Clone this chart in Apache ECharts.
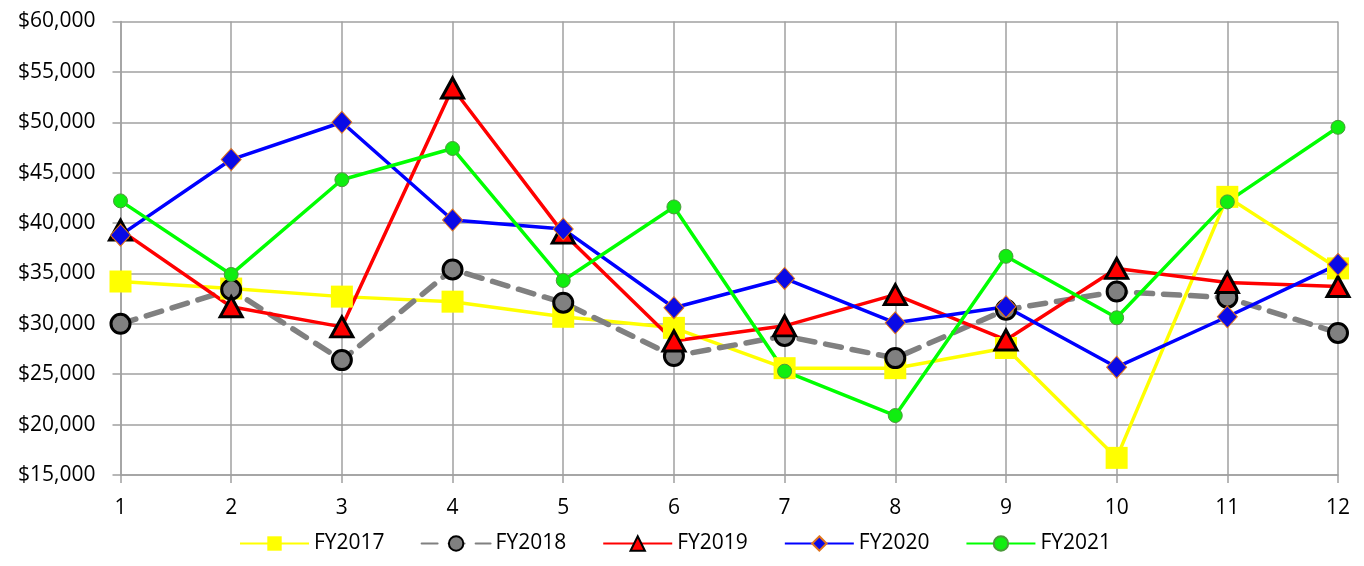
<!DOCTYPE html>
<html>
<head>
<meta charset="utf-8">
<script src="https://cdn.jsdelivr.net/npm/echarts@6/dist/echarts.min.js"></script>
<style>
html,body{margin:0;padding:0;background:#fff;}
#chart{width:1364px;height:566px;}
</style>
</head>
<body>
<div id="chart"></div>
<script>
var categories = ['1','2','3','4','5','6','7','8','9','10','11','12'];
var fy2017 = [34200, 33500, 32700, 32200, 30700, 29600, 25600, 25600, 27600, 16700, 42600, 35500];
var fy2018 = [30000, 33400, 26400, 35400, 32100, 26800, 28800, 26600, 31400, 33200, 32600, 29100];
var fy2019 = [39300, 31700, 29700, 53400, 39000, 28300, 29800, 32900, 28400, 35500, 34100, 33700];
var fy2020 = [38800, 46300, 50000, 40300, 39400, 31600, 34500, 30100, 31700, 25700, 30700, 35900];
var fy2021 = [42200, 34900, 44300, 47400, 34300, 41600, 25300, 20900, 36700, 30600, 42100, 49500];
var yTicks = {min: 15000, max: 60000, interval: 5000};

var FONT = '"Open Sans", "Noto Sans", sans-serif';
var chart = echarts.init(document.getElementById('chart'));
function money(v){ return '$' + v.toLocaleString('en-US'); }
chart.setOption({
  animation: false,
  backgroundColor: '#ffffff',
  grid: {left: 120.5, right: 26, top: 21.5, bottom: 91, containLabel: false},
  legend: {
    bottom: 7,
    left: 234,
    itemGap: 36,
    itemWidth: 69,
    itemHeight: 18,
    textStyle: {fontFamily: FONT, fontSize: 21, color: '#000'},
    data: ['FY2017','FY2018','FY2019','FY2020','FY2021']
  },
  xAxis: {
    type: 'category',
    data: categories,
    boundaryGap: false,
    axisLine: {lineStyle: {color: '#a0a0a0', width: 1.5}},
    axisTick: {show: true, length: 8, lineStyle: {color: '#a0a0a0', width: 1.5}},
    splitLine: {show: true, lineStyle: {color: '#a0a0a0', width: 1.5}},
    axisLabel: {fontFamily: FONT, fontSize: 21, color: '#000', margin: 23}
  },
  yAxis: {
    type: 'value',
    min: yTicks.min, max: yTicks.max, interval: yTicks.interval,
    axisLine: {show: true, lineStyle: {color: '#a0a0a0', width: 1.5}},
    axisTick: {show: true, length: 8, lineStyle: {color: '#a0a0a0', width: 1.5}},
    splitLine: {show: true, lineStyle: {color: '#a0a0a0', width: 1.5}},
    axisLabel: {fontFamily: FONT, fontSize: 21, color: '#000', margin: 25, formatter: money}
  },
  series: [
    {name: 'FY2017', type: 'line', data: fy2017, symbol: 'rect', symbolSize: 22,
     lineStyle: {color: '#ffff00', width: 3.5}, itemStyle: {color: '#ffff00', borderWidth: 0}},
    {name: 'FY2018', type: 'line', data: fy2018, symbol: 'circle', symbolSize: 19,
     lineStyle: {color: '#808080', width: 5.5, type: [16, 11], cap: 'round'},
     itemStyle: {color: '#808080', borderColor: '#000', borderWidth: 3}},
    {name: 'FY2019', type: 'line', data: fy2019, symbol: 'triangle', symbolSize: [22, 20],
     lineStyle: {color: '#ff0000', width: 3.5}, itemStyle: {color: '#ff0000', borderColor: '#000', borderWidth: 3}},
    {name: 'FY2020', type: 'line', data: fy2020, symbol: 'diamond', symbolSize: [20, 22],
     lineStyle: {color: '#0000ff', width: 3.5}, itemStyle: {color: '#0a0ae6', borderColor: '#e0741c', borderWidth: 1}},
    {name: 'FY2021', type: 'line', data: fy2021, symbol: 'circle', symbolSize: 14,
     lineStyle: {color: '#00ff00', width: 3.5}, itemStyle: {color: '#10ee10', borderColor: '#4a9a3a', borderWidth: 1}}
  ]
});
</script>
</body>
</html>
